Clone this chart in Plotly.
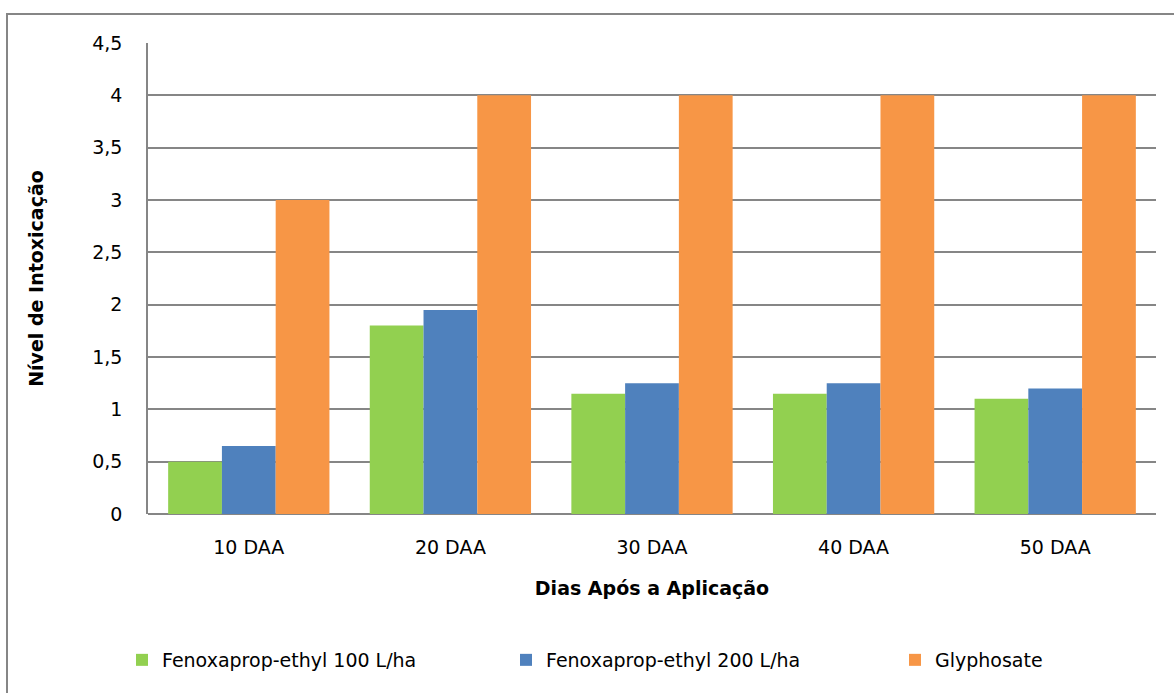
import plotly.graph_objects as go

categories = ["10 DAA", "20 DAA", "30 DAA", "40 DAA", "50 DAA"]
fenox_100 = [0.5, 1.8, 1.15, 1.15, 1.1]
fenox_200 = [0.65, 1.95, 1.25, 1.25, 1.2]
glyphosate = [3, 4, 4, 4, 4]
series_names = ["Fenoxaprop-ethyl 100 L/ha", "Fenoxaprop-ethyl 200 L/ha", "Glyphosate"]
y_ticks = [0, 0.5, 1, 1.5, 2, 2.5, 3, 3.5, 4, 4.5]

colors = ["#92D050", "#4F81BD", "#F79646"]
FONT = "DejaVu Sans"
GRID = "#868686"

W, H = 1174, 693
L, R, T, B = 148, 18, 43, 179
pw, ph = W - L - R, H - T - B


def px_x(p):
    return (p - L) / pw


def px_y(p):
    return (H - B - p) / ph


legend_ids = ["legend", "legend2", "legend3"]
legend_x = [122, 506, 895]

fig = go.Figure()
for name, vals, c, lid in zip(series_names, [fenox_100, fenox_200, glyphosate], colors, legend_ids):
    fig.add_trace(go.Bar(x=categories, y=vals, name=name, marker_color=c,
                         marker_line_width=0, legend=lid))

legend_layout = {}
for lid, lx in zip(legend_ids, legend_x):
    legend_layout[lid] = dict(
        orientation="h", x=px_x(lx), xanchor="left",
        y=px_y(660), yanchor="middle",
        font=dict(family=FONT, size=19, color="#000000"),
        bgcolor="rgba(0,0,0,0)", borderwidth=0,
    )

fig.update_layout(
    width=W, height=H,
    margin=dict(l=L, r=R, t=T, b=B),
    paper_bgcolor="white", plot_bgcolor="white",
    separators=",.",
    barmode="group", bargap=0.2, bargroupgap=0,
    font=dict(family=FONT, size=19, color="#000000"),
    showlegend=True,
    xaxis=dict(
        showgrid=False, showline=False, zeroline=False,
        ticks="outside", ticklen=16, tickcolor="rgba(0,0,0,0)",
        tickfont=dict(size=19),
        title=dict(text="<b>Dias Após a Aplicação</b>", font=dict(size=19), standoff=24),
    ),
    yaxis=dict(
        range=[0, 4.5], tickvals=y_ticks,
        showgrid=True, gridcolor=GRID, gridwidth=1.5,
        zeroline=True, zerolinecolor=GRID, zerolinewidth=1.5,
        showline=True, linecolor=GRID, linewidth=1.5,
        ticks="outside", ticklen=20, tickcolor="rgba(0,0,0,0)",
        tickfont=dict(size=19),
        title=dict(text="<b>Nível de Intoxicação</b>", font=dict(size=19), standoff=44),
    ),
    shapes=[dict(
        type="rect", xref="paper", yref="paper",
        x0=px_x(7), x1=px_x(1190), y0=px_y(710), y1=px_y(14),
        line=dict(color=GRID, width=2), fillcolor="rgba(0,0,0,0)", layer="below",
    )],
    **legend_layout,
)

fig.write_html("out.html",
               config={"displayModeBar": False},
               post_script="document.body.style.margin='0';document.body.style.overflow='hidden';")
